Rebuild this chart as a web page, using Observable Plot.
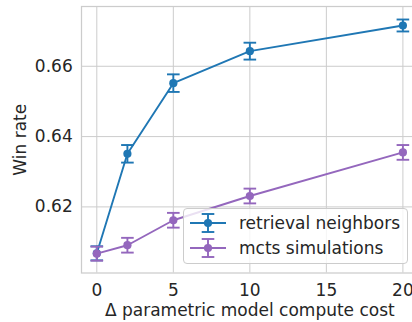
<!DOCTYPE html>
<html>
<head>
<meta charset="utf-8">
<script src="https://cdn.jsdelivr.net/npm/d3@7"></script>
<script src="https://cdn.jsdelivr.net/npm/@observablehq/plot@0.6"></script>
<style>
  html, body { margin: 0; padding: 0; background: #fff; overflow: hidden; }
  #wrap { position: relative; width: 412px; height: 322px; font-family: "DejaVu Sans"; color: #262626; }
  #wrap svg text { font-family: "DejaVu Sans"; }
  #legend { position: absolute; left: 183px; top: 208px; width: 225px; height: 55.5px; box-sizing: border-box;
    border: 1px solid #cccccc; border-radius: 4px; background: rgba(255,255,255,0.8); }
  .row { position: absolute; left: 0; height: 24px; display: flex; align-items: center; }
  .row svg { display: block; margin-left: 6px; }
  .row span { font-family: "DejaVu Sans"; font-size: 17px; margin-left: 13px; white-space: nowrap; color: #262626; }
</style>
</head>
<body>
<div id="wrap"></div>
<script>
const xValues = [0, 2, 5, 10, 20];
const retrievalMean = [0.6068, 0.6351, 0.6552, 0.6643, 0.6716];
const retrievalErr = [0.0020, 0.0025, 0.0025, 0.0024, 0.0017];
const mctsMean = [0.6067, 0.6091, 0.6162, 0.6231, 0.6355];
const mctsErr = [0.0020, 0.0021, 0.0021, 0.0021, 0.0021];
const seriesNames = ["retrieval neighbors", "mcts simulations"];
const seriesColors = ["#1f77b4", "#9467bd"];
const xTicks = [0, 5, 10, 15, 20];
const yTicks = [0.62, 0.64, 0.66];

const rows = [];
[[retrievalMean, retrievalErr], [mctsMean, mctsErr]].forEach(([m, e], s) => {
  xValues.forEach((x, i) => rows.push({series: seriesNames[s], x, y: m[i], lo: m[i] - e[i], hi: m[i] + e[i]}));
});

const capSymbol = {
  draw(context, size) {
    const w = Math.sqrt(size / Math.PI);
    context.moveTo(-w, 0);
    context.lineTo(w, 0);
  }
};

const marks = [
  Plot.gridX(xTicks, {stroke: "#cccccc", strokeOpacity: 1, strokeWidth: 1}),
  Plot.gridY(yTicks, {stroke: "#cccccc", strokeOpacity: 1, strokeWidth: 1}),
  Plot.frame({stroke: "#cccccc", strokeWidth: 1.25}),
  Plot.axisX(xTicks, {tickSize: 0, tickPadding: 10.8, fontSize: 17, label: "Δ parametric model compute cost", labelAnchor: "center", labelOffset: 43, labelArrow: false}),
  Plot.axisY(yTicks, {tickSize: 0, tickPadding: 8.8, fontSize: 17, tickFormat: d3.format(".2f"), label: "Win rate", labelAnchor: "center", labelOffset: 68, labelArrow: false})
];
seriesNames.forEach((name, s) => {
  const data = rows.filter(d => d.series === name);
  const c = seriesColors[s];
  marks.push(
    Plot.line(data, {x: "x", y: "y", stroke: c, strokeWidth: 1.9}),
    Plot.ruleX(data, {x: "x", y1: "lo", y2: "hi", stroke: c, strokeWidth: 1.9}),
    Plot.dot(data, {x: "x", y: "lo", symbol: capSymbol, r: 6.3, stroke: c, strokeWidth: 1.9, fill: "none"}),
    Plot.dot(data, {x: "x", y: "hi", symbol: capSymbol, r: 6.3, stroke: c, strokeWidth: 1.9, fill: "none"}),
    Plot.dot(data, {x: "x", y: "y", r: 4.1, fill: c, stroke: "none"})
  );
});

const chart = Plot.plot({
  width: 412,
  height: 322,
  marginLeft: 81,
  marginRight: -5.7,
  marginTop: 6,
  marginBottom: 49.5,
  style: {fontFamily: "'DejaVu Sans'", fontSize: "17px", color: "#262626", background: "white", overflow: "visible"},
  x: {domain: [-1, 21]},
  y: {domain: [0.6012, 0.6770]},
  marks
});
const wrap = document.getElementById("wrap");
wrap.appendChild(chart);

const legend = document.createElement("div");
legend.id = "legend";
seriesNames.forEach((name, s) => {
  const c = seriesColors[s];
  const row = document.createElement("div");
  row.className = "row";
  row.style.top = (s === 0 ? 1.5 : 26.5) + "px";
  row.innerHTML = `<svg width="36" height="22" viewBox="0 0 36 22">
      <line x1="0" x2="36" y1="11" y2="11" stroke="${c}" stroke-width="1.9"/>
      <line x1="18" x2="18" y1="2" y2="20" stroke="${c}" stroke-width="1.9"/>
      <line x1="11.7" x2="24.3" y1="2" y2="2" stroke="${c}" stroke-width="1.9"/>
      <line x1="11.7" x2="24.3" y1="20" y2="20" stroke="${c}" stroke-width="1.9"/>
      <circle cx="18" cy="11" r="4.1" fill="${c}"/>
    </svg><span>${name}</span>`;
  legend.appendChild(row);
});
wrap.appendChild(legend);
</script>
</body>
</html>
